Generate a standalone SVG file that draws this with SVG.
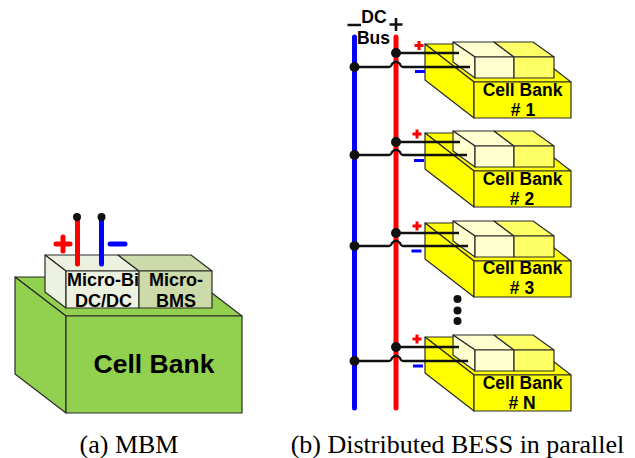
<svg xmlns="http://www.w3.org/2000/svg" width="635" height="458" viewBox="0 0 635 458">
<style>
.e{stroke:#2b2b2b;stroke-width:1.2;stroke-linejoin:round}
.w{fill:none;stroke:#111;stroke-width:2.300}
.s{font-family:"Liberation Sans",Arial,sans-serif;font-weight:bold;fill:#000;text-anchor:middle}
.c{font-family:"Liberation Serif","Times New Roman",serif;font-size:26px;fill:#000;text-anchor:middle}
.r{stroke:#f00;stroke-width:3;fill:none}
.b{stroke:#00f;stroke-width:3;fill:none}
.rb{stroke:#f00;stroke-width:5;stroke-linecap:round;fill:none}
.bb{stroke:#00f;stroke-width:5;stroke-linecap:round;fill:none}
.y{fill:#ff0}.l{fill:#ffffd0}.m{fill:#ffff66}
</style>
<defs>
<g id="bank">
<path class="e y" d="M425 44H522L571 82H474Z"/>
<path class="e y" d="M425 44L474 82V118L425 80Z"/>
<rect class="e y" x="474" y="82" width="97" height="36"/>
<path class="e l" d="M453 42H494L514 57H475Z"/>
<path class="e m" d="M494 42H533L554 57H514Z"/>
<path class="e l" d="M453 42L475 57V78L453 62Z"/>
<rect class="e l" x="475" y="57" width="39" height="21"/>
<rect class="e m" x="514" y="57" width="40" height="21"/>
</g>
</defs>

<g id="mbm-cell-bank">
<path class="e" fill="#92d050" d="M15 277H191L242 316H66Z"/>
<path class="e" fill="#92d050" d="M15 277L66 316V413L15 374Z"/>
<rect class="e" fill="#92d050" x="66" y="316" width="176" height="97"/>
<text class="s" x="154" y="372.500" font-size="26.500">Cell Bank</text>
</g>
<g id="mbm-dcdc">
<path class="e" fill="#edf1df" d="M45 255H118L139 271H66Z"/>
<path class="e" fill="#edf1df" d="M45 255L66 271V308L45 292Z"/>
<rect class="e" fill="#edf1df" x="66" y="271" width="73" height="37"/>
<text class="s" x="103" y="286" font-size="18">Micro-Bi</text>
<text class="s" x="103.500" y="307" font-size="18">DC/DC</text>
</g>
<g id="mbm-bms">
<path class="e" fill="#cddbaa" d="M118 255H191L212 271H139Z"/>
<rect class="e" fill="#cddbaa" x="139" y="271" width="73" height="37"/>
<text class="s" x="176" y="286" font-size="18">Micro-</text>
<text class="s" x="176" y="307" font-size="18">BMS</text>
</g>
<g id="mbm-terminals">
<path class="rb" d="M77.500 217V264"/>
<path class="bb" d="M101.500 217V264"/>
<circle cx="77" cy="217" r="4" fill="#111"/>
<circle cx="101.500" cy="217" r="4" fill="#111"/>
<path class="rb" d="M56 244H70M63 237V251"/>
<path class="bb" d="M110 244H125"/>
</g>

<g id="unit-1"><use href="#bank"/><text class="s" x="522.500" y="96" font-size="17.500">Cell Bank</text><text class="s" x="523" y="116" font-size="17.500"># 1</text></g>
<g id="unit-2"><use href="#bank" y="89"/><text class="s" x="522.500" y="185" font-size="17.500">Cell Bank</text><text class="s" x="522" y="205" font-size="17.500"># 2</text></g>
<g id="unit-3"><use href="#bank" y="179"/><text class="s" x="522.500" y="274" font-size="17.500">Cell Bank</text><text class="s" x="522" y="294" font-size="17.500"># 3</text></g>
<g id="unit-n"><use href="#bank" y="293"/><text class="s" x="522.500" y="389" font-size="17.500">Cell Bank</text><text class="s" x="522" y="409" font-size="17.500"># N</text></g>

<g id="dc-bus">
<path class="bb" d="M354.500 37V408"/>
<path class="rb" d="M396 37V408"/>
<path d="M347.500 25H361M389.500 24.500H402.500M396 18V31" stroke="#111" stroke-width="2.600" fill="none"/>
<text class="s" x="374" y="23" font-size="17.500">DC</text>
<text class="s" x="373.500" y="44" font-size="17.500">Bus</text>
</g>

<g id="connectors">
<path class="w" d="M396 53H459M354 67H389Q391 67 392 64Q396 59.500 400 64Q401 67 403 67H470"/>
<path class="w" d="M396 142H460M354 155H389Q391 155 392 152Q396 147.500 400 152Q401 155 403 155H467"/>
<path class="w" d="M396 233H459M355 246H389Q391 246 392 243Q396 238.500 400 243Q401 246 403 246H468"/>
<path class="w" d="M396 347H459M355 361H389Q391 361 392 358Q396 353.500 400 358Q401 361 403 361H468"/>
<g fill="#111">
<circle cx="396" cy="53" r="5"/><circle cx="354.500" cy="67" r="5"/>
<circle cx="396" cy="142" r="5"/><circle cx="354.500" cy="155" r="5"/>
<circle cx="396" cy="233" r="5"/><circle cx="354.500" cy="246" r="5"/>
<circle cx="396" cy="347" r="5"/><circle cx="354.500" cy="361" r="5"/>
</g>
</g>

<g id="polarity">
<path class="r" d="M414.500 45.500H423.500M419 41V50M412.500 134H421.500M417 129.500V138.500M412.500 226H421.500M417 221.500V230.500M412.500 339H421.500M417 334.500V343.500"/>
<path class="b" d="M415 71.500H425M414 160.500H424M411.500 251H421.500M413 366H423"/>
</g>

<g id="ellipsis" fill="#111">
<circle cx="457.500" cy="299" r="4"/><circle cx="457.500" cy="310.500" r="4"/><circle cx="457.500" cy="321" r="4"/>
</g>

<g id="captions">
<text class="c" x="129" y="453">(a) MBM</text>
<text class="c" x="457.500" y="453">(b) Distributed BESS in parallel</text>
</g>
</svg>
